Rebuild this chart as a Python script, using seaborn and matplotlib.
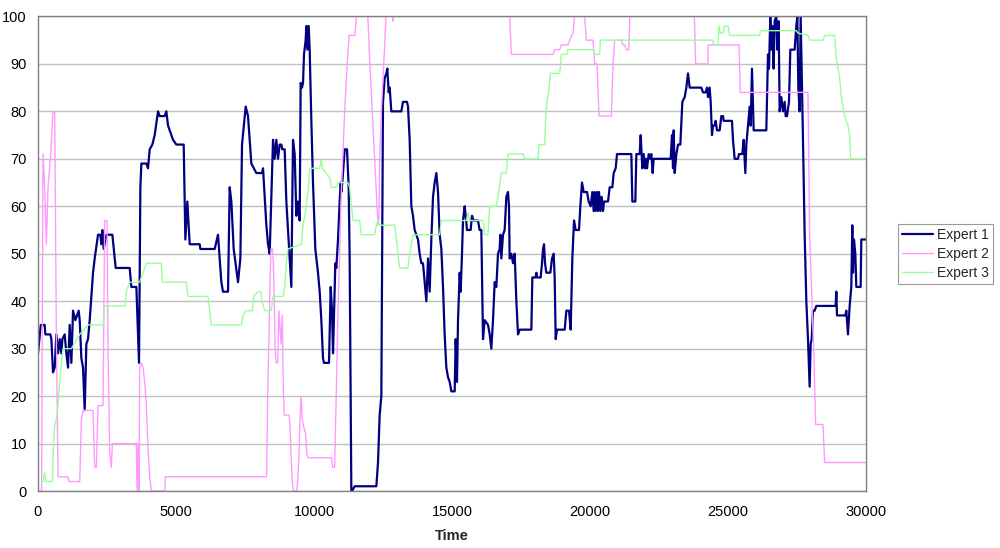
import numpy as np
import pandas as pd
import seaborn as sns
import matplotlib
matplotlib.use("Agg")
import matplotlib.pyplot as plt

# --- Data (time, score) ---
expert1_time = [
    0, 100, 240, 267, 448, 484, 544, 605, 665, 726, 786, 846, 883, 967, 1027, 1088,
    1148, 1209, 1269, 1354, 1474, 1511, 1571, 1631, 1692, 1752, 1812, 1873, 1994, 2054,
    2175, 2259, 2296, 2332, 2380, 2477, 2694, 2815, 3322, 3382, 3564, 3660, 3709, 3745,
    3926, 3986, 4047, 4143, 4228, 4349, 4409, 4590, 4651, 4711, 4771, 4892, 5013, 5279,
    5339, 5411, 5496, 5858, 5882, 6402, 6522, 6643, 6704, 6885, 6945, 7006, 7090, 7247,
    7332, 7392, 7525, 7609, 7730, 7911, 8116, 8153, 8274, 8334, 8394, 8515, 8575, 8636,
    8696, 8756, 8817, 8853, 8937, 8998, 9058, 9119, 9179, 9239, 9300, 9360, 9420, 9481,
    9517, 9565, 9602, 9638, 9698, 9722, 9759, 9807, 9843, 9904, 9964, 10048, 10145, 10206,
    10266, 10326, 10363, 10544, 10604, 10652, 10689, 10725, 10773, 10809, 10870, 10930,
    10966, 10991, 11027, 11075, 11111, 11196, 11256, 11292, 11353, 11377, 11474, 12259,
    12319, 12379, 12440, 12500, 12561, 12621, 12657, 12705, 12742, 12802, 13164, 13225,
    13369, 13406, 13466, 13527, 13587, 13647, 13708, 13768, 13828, 13889, 13949, 14010,
    14070, 14131, 14191, 14251, 14312, 14372, 14433, 14493, 14553, 14614, 14674, 14734,
    14795, 14855, 14916, 14976, 15097, 15133, 15181, 15218, 15278, 15314, 15362, 15399,
    15459, 15495, 15543, 15676, 15724, 15785, 15942, 16002, 16063, 16123, 16184, 16305,
    16365, 16425, 16486, 16546, 16606, 16667, 16727, 16751, 16787, 16848, 16908, 16969,
    17029, 17065, 17089, 17150, 17210, 17271, 17332, 17392, 17452, 17875, 17911, 18032,
    18056, 18080, 18213, 18261, 18298, 18334, 18370, 18418, 18563, 18624, 18684, 18720,
    18757, 18805, 19083, 19143, 19240, 19300, 19360, 19421, 19481, 19602, 19650, 19711,
    19771, 19892, 19952, 20025, 20085, 20133, 20170, 20206, 20254, 20290, 20327, 20375,
    20423, 20471, 20508, 20653, 20713, 20810, 20858, 20930, 20979, 21075, 21498, 21534,
    21643, 21679, 21800, 21836, 21872, 21897, 21945, 21993, 22042, 22066, 22126, 22186,
    22223, 22271, 22307, 22923, 22971, 23008, 23032, 23068, 23129, 23189, 23273, 23346,
    23430, 23491, 23551, 23612, 24034, 24095, 24191, 24240, 24276, 24335, 24372, 24420,
    24456, 24516, 24553, 24601, 24698, 24758, 24818, 24843, 25144, 25181, 25241, 25362,
    25398, 25519, 25567, 25628, 25664, 25724, 25785, 25821, 25869, 25930, 26388, 26412,
    26449, 26485, 26533, 26570, 26606, 26654, 26690, 26751, 26787, 26835, 26871, 26932,
    26992, 27053, 27089, 27137, 27210, 27258, 27415, 27475, 27512, 27548, 27596, 27632,
    27669, 27717, 27777, 27838, 27898, 27958, 27995, 28031, 28079, 28140, 28200, 28900,
    28925, 28949, 29251, 29287, 29347, 29408, 29468, 29504, 29529, 29565, 29613, 29649,
    29806, 29830, 30000,
]
expert1_value = [
    29, 35, 35, 33, 33, 32, 25, 26, 33, 29, 32, 29, 32, 33, 29, 26,
    35, 27, 38, 36, 38, 36, 28, 26, 17, 31, 32, 36, 46, 49,
    54, 54, 52, 55, 51, 54, 54, 47, 47, 43, 43, 27, 64, 69,
    69, 68, 72, 73, 75, 80, 79, 79, 80, 77, 76, 74, 73, 73,
    53, 61, 52, 52, 51, 51, 54, 44, 42, 42, 64, 61, 51, 44,
    49, 73, 81, 79, 69, 67, 67, 68, 56, 52, 50, 74, 70, 74,
    70, 73, 73, 72, 72, 61, 55, 49, 43, 74, 71, 58, 61, 57,
    86, 85, 86, 92, 95, 98, 93, 98, 93, 78, 65, 51, 46, 42,
    36, 28, 27, 27, 43, 38, 29, 37, 48, 47, 53, 61,
    65, 63, 65, 69, 72, 72, 64, 49, 0, 0, 1, 1,
    6, 16, 20, 82, 87, 88, 89, 84, 85, 80, 80, 82,
    82, 81, 74, 60, 58, 55, 54, 53, 50, 48, 48, 44,
    40, 49, 42, 53, 62, 65, 67, 63, 54, 51, 43, 33,
    26, 24, 23, 21, 21, 32, 23, 36, 46, 42, 50, 57,
    60, 58, 55, 55, 58, 57, 57, 55, 55, 32, 36, 35,
    33, 30, 36, 44, 43, 50, 51, 54, 49, 54, 55, 62,
    63, 60, 49, 50, 48, 50, 40, 33, 34, 34, 45, 45,
    46, 45, 45, 48, 51, 52, 48, 46, 46, 49, 50, 45,
    32, 34, 34, 38, 38, 34, 49, 57, 55, 55, 60, 65,
    63, 63, 61, 60, 63, 59, 63, 59, 63, 59, 63, 59,
    62, 59, 61, 61, 64, 64, 67, 68, 71, 71, 71, 61,
    61, 71, 71, 75, 71, 68, 71, 68, 70, 68, 71, 70,
    71, 67, 70, 70, 75, 68, 76, 67, 71, 73, 73, 82,
    83, 85, 88, 85, 85, 84, 84, 85, 83, 85, 82, 75,
    77, 77, 78, 76, 76, 79, 79, 78, 78, 74, 70, 70,
    71, 71, 74, 67, 73, 77, 81, 77, 89, 76, 76, 82,
    92, 89, 100, 93, 98, 89, 99, 100, 93, 99, 80, 83,
    80, 82, 79, 79, 82, 93, 93, 98, 100, 85, 80, 100,
    89, 74, 54, 40, 32, 22, 31, 32, 38, 38, 39, 39,
    42, 37, 37, 38, 33, 39, 43, 56, 46, 53, 50, 43,
    43, 53, 53,
]

expert2_time = [
    0, 130, 182, 242, 303, 363, 448, 544, 605, 665, 726, 1088, 1124, 1511, 1571, 1631,
    1994, 2054, 2114, 2175, 2356, 2416, 2501, 2537, 2597, 2658, 2694, 3564, 3588, 3624,
    3660, 3684, 3745, 3805, 3866, 3926, 3986, 4047, 4107, 4590, 4614, 8285, 8321, 8370,
    8406, 8442, 8490, 8527, 8563, 8587, 8623, 8684, 8732, 8804, 8853, 8889, 8925, 9094,
    9130, 9167, 9215, 9251, 9372, 9408, 9457, 9493, 9529, 9577, 9650, 9698, 9734, 9795,
    10640, 10676, 10749, 10870, 10991, 11111, 11196, 11268, 11474, 11510, 11600, 11920,
    12017, 12078, 12138, 12198, 12259, 12319, 12355, 12380, 12440, 12500, 12561, 12640,
    12840, 12863, 12890, 17060, 17150, 18660, 18720, 18902, 18962, 19203, 19264, 19385,
    19500, 19760, 19868, 20109, 20170, 20254, 20327, 20774, 20834, 20894, 21136, 21196,
    21256, 21317, 21401, 21470, 23760, 23829, 24275, 24280, 25398, 25446, 27898, 27958,
    28079, 28115, 28176, 28441, 28502, 30000,
]
expert2_value = [
    0, 0, 71, 64, 52, 64, 70, 80, 80, 33, 3, 3, 2, 2, 15, 17,
    17, 5, 5, 18, 18, 57, 57, 30, 8, 5, 10, 10, 0, 10,
    0, 26, 27, 26, 23, 18, 9, 3, 0, 0, 3, 3, 20, 33,
    44, 51, 51, 48, 40, 31, 27, 27, 38, 31, 37, 21, 16, 16,
    14, 8, 2, 0, 0, 2, 8, 15, 20, 15, 13, 12, 8, 7,
    7, 5, 5, 38, 63, 80, 89, 96, 96, 98, 104, 104,
    91, 84, 77, 70, 63, 56, 58, 70, 80, 87, 94, 104,
    104, 99, 104, 104, 92, 92, 93, 93, 94, 94, 95, 96.5,
    104, 104, 95, 95, 90, 90, 79, 79, 90, 95, 95, 94,
    94, 93, 93, 104, 104, 90, 90, 94, 94, 84, 84, 54,
    34, 28, 14, 14, 6, 6,
]

expert3_time = [
    120, 182, 242, 279, 520, 544, 605, 665, 726, 786, 846, 907, 1209, 1511, 1812, 2356,
    2416, 3165, 3201, 3322, 3684, 3805, 3926, 4469, 4506, 5375, 5436, 6160, 6221, 6281,
    7368, 7428, 7525, 7766, 7815, 7971, 8068, 8116, 8213, 8455, 8515, 8877, 8937, 8998,
    9058, 9541, 9602, 9722, 9783, 9843, 10206, 10266, 10302, 10568, 10628, 10809, 10870,
    11232, 11292, 11413, 11655, 11715, 12198, 12259, 12319, 12379, 12923, 12983, 13044,
    13104, 13406, 13466, 13587, 14553, 14614, 15519, 15580, 15640, 16123, 16184, 16305,
    16365, 16606, 16667, 16788, 16969, 17029, 17573, 17633, 18117, 18153, 18358, 18394,
    18443, 18515, 18563, 18902, 18962, 19167, 19203, 20109, 20170, 20351, 20375, 24456,
    24480, 24637, 24673, 24722, 24818, 24879, 25000, 25060, 26147, 26171, 27475, 27536,
    27898, 27958, 28441, 28502, 28864, 28925, 28985, 29045, 29106, 29166, 29227, 29287,
    29347, 29408, 29444, 30000,
]
expert3_value = [
    2, 2, 4, 2, 2, 7, 14, 15, 18, 23, 27, 30, 30, 33, 35, 35,
    39, 39, 42, 44, 44, 46, 48, 48, 44, 44, 41, 41, 38, 35,
    35, 37, 38, 38, 41, 42, 42, 40, 38, 38, 41, 41, 43, 48,
    51, 52, 56, 60, 63, 68, 68, 70, 68, 66, 64, 64, 65,
    65, 64, 57, 57, 54, 54, 56, 57, 56, 56, 53, 50,
    47, 47, 50, 54, 54, 57, 57, 58.5, 57, 57, 54, 54,
    60, 60, 62, 67, 67, 71, 71, 70, 70, 73, 73, 79,
    82, 85, 88, 88, 92, 92, 93, 93, 92, 92, 95, 95,
    94, 94, 98, 96.5, 96.5, 98, 98, 96, 96, 97, 97, 96.5,
    96, 95, 95, 96, 96, 91, 89, 87, 83, 81, 79, 78,
    77, 75, 70, 70,
]

series_names = ["Expert 1", "Expert 2", "Expert 3"]
series_colors = ["#000080", "#ff99ff", "#99ff99"]
series_widths = [1.6, 1.0, 1.0]

# --- Style ---
sns.set_style("white")
plt.rcParams["font.family"] = ["Liberation Sans", "DejaVu Sans"]

fig = plt.figure(figsize=(10, 5.48), dpi=100)
ax = fig.add_axes([0.038, 0.104, 0.828, 0.866])

frames = [
    pd.DataFrame({"Time": expert1_time, "Score": expert1_value}),
    pd.DataFrame({"Time": expert2_time, "Score": expert2_value}),
    pd.DataFrame({"Time": expert3_time, "Score": expert3_value}),
]

for df, name, color, lw in zip(frames, series_names, series_colors, series_widths):
    sns.lineplot(data=df, x="Time", y="Score", ax=ax, estimator=None, sort=False,
                 color=color, linewidth=lw, label=name)

# --- Axes ---
ax.set_xlim(0, 30000)
ax.set_ylim(0, 100)
ax.set_xticks(np.arange(0, 30001, 5000))
ax.set_yticks(np.arange(0, 101, 10))
ax.yaxis.grid(True, color="#c0c0c0", linewidth=1)
ax.xaxis.grid(False)
ax.set_axisbelow(True)
for sp in ax.spines.values():
    sp.set_color("#808080")
    sp.set_linewidth(1)
ax.tick_params(axis="both", direction="out", length=4, width=1, color="#808080",
               labelsize=10.5, labelcolor="black")
ax.tick_params(axis="x", pad=6)
ax.tick_params(axis="y", pad=4)
ax.set_xlabel("Time", fontsize=10.5, fontweight="bold", labelpad=7)
ax.set_ylabel("")

# --- Legend ---
handles, labels = ax.get_legend_handles_labels()
ax.legend(handles, labels, loc="center", bbox_to_anchor=(0.9455, 0.537),
          bbox_transform=fig.transFigure, frameon=True, fancybox=False,
          edgecolor="#808080", fontsize=10, handlelength=2.2,
          borderpad=0.3, labelspacing=0.35, handletextpad=0.3,
          borderaxespad=0)
ax.get_legend().get_frame().set_linewidth(0.8)

fig.savefig("out.png", dpi=100)
